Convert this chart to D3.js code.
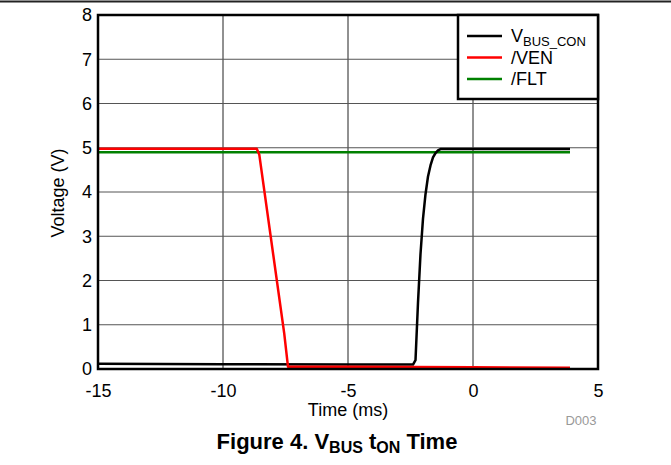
<!DOCTYPE html>
<html><head><meta charset="utf-8">
<script src="https://cdn.jsdelivr.net/npm/d3@7"></script>
<style>body{margin:0;background:#fff}svg{font-family:"Liberation Sans",Arial,sans-serif}</style>
</head><body><svg id="c" width="671" height="465"></svg>
<script>
const xTicks = [-15, -10, -5, 0, 5];
const yTicks = [0, 1, 2, 3, 4, 5, 6, 7, 8];
const vbusT = [-15, -10, -5, -2.4, -2.3, -2.2, -2.1, -2.0, -1.9, -1.8, -1.7, -1.6, -1.5, -1.4, -1.3, 0, 3.88];
const vbusV = [0.12, 0.11, 0.1, 0.1, 0.2, 1.5, 2.6, 3.4, 3.95, 4.35, 4.6, 4.78, 4.88, 4.94, 4.97, 4.97, 4.97];
const venT = [-15, -10, -8.65, -8.55, -7.55, -7.4, -5, 0, 3.88];
const venV = [4.98, 4.98, 4.98, 4.85, 0.8, 0.05, 0.05, 0.04, 0.03];
const fltT = [-15, -5, 0, 3.88];
const fltV = [4.9, 4.9, 4.9, 4.9];
const seriesNames = ["V", "/VEN", "/FLT"];
const seriesColors = ["#000000", "#ff0000", "#008000"];

const FF = '"Liberation Sans",Arial,sans-serif';
const svg = d3.select("#c");
const L = 98, R = 598, T = 15, B = 369;
const x = d3.scaleLinear().domain([-15, 5]).range([L, R]);
const y = d3.scaleLinear().domain([0, 8]).range([B, T]);

// top page rule
svg.append("line").attr("x1", 0).attr("x2", 671).attr("y1", 1.5).attr("y2", 1.5).attr("stroke", "#222").attr("stroke-width", 2);

// grid
const g = svg.append("g");
g.selectAll(".vg").data(xTicks.slice(1, -1)).join("line")
  .attr("x1", d => x(d)).attr("x2", d => x(d)).attr("y1", T).attr("y2", B)
  .attr("stroke", "#222").attr("stroke-width", 1);
g.selectAll(".hg").data(yTicks.slice(1, -1)).join("line")
  .attr("x1", L).attr("x2", R).attr("y1", d => y(d)).attr("y2", d => y(d))
  .attr("stroke", "#555").attr("stroke-width", 1);

// axes labels
const xAxis = d3.axisBottom(x).tickValues(xTicks).tickSize(0).tickPadding(15).tickFormat(d => String(d));
const ax = svg.append("g").attr("transform", `translate(0,${B})`).call(xAxis);
ax.attr("font-size", 18).attr("font-family", FF);
ax.select(".domain").remove();
ax.selectAll("text").attr("fill", "#000");
const yAxis = d3.axisLeft(y).tickValues(yTicks).tickSize(0).tickPadding(6).tickFormat(d => String(d));
const ay = svg.append("g").attr("transform", `translate(${L},0)`).call(yAxis);
ay.attr("font-size", 18).attr("font-family", FF);
ay.select(".domain").remove();
ay.selectAll("text").attr("fill", "#000");

// data lines
const line = d3.line().x(d => x(d[0])).y(d => y(d[1]));
const data = [d3.zip(vbusT, vbusV), d3.zip(venT, venV), d3.zip(fltT, fltV)];
[2, 0, 1].forEach(i => {
  svg.append("path").datum(data[i]).attr("d", line).attr("fill", "none")
    .attr("stroke", seriesColors[i]).attr("stroke-width", 2.5).attr("stroke-linejoin", "round");
});

// frame
svg.append("rect").attr("x", L).attr("y", T).attr("width", R - L).attr("height", B - T)
  .attr("fill", "none").attr("stroke", "#000").attr("stroke-width", 2.5);

// legend
const lg = svg.append("g");
lg.append("rect").attr("x", 458).attr("y", T).attr("width", R - 458).attr("height", 84)
  .attr("fill", "#fff").attr("stroke", "#000").attr("stroke-width", 2.5);
const ly = [36, 57.5, 79];
seriesNames.forEach((n, i) => {
  lg.append("line").attr("x1", 467).attr("x2", 502).attr("y1", ly[i]).attr("y2", ly[i])
    .attr("stroke", seriesColors[i]).attr("stroke-width", 2.5);
  const t = lg.append("text").attr("x", 511).attr("y", ly[i] + 6).attr("font-size", 18).attr("fill", "#000");
  if (i === 0) {
    t.append("tspan").text("V");
    t.append("tspan").attr("font-size", 13).attr("dy", 4).text("BUS_CON");
  } else t.text(n);
});

// axis titles
svg.append("text").attr("x", 348).attr("y", 416).attr("text-anchor", "middle").attr("font-size", 18).text("Time (ms)");
svg.append("text").attr("transform", "translate(64,193) rotate(-90)").attr("text-anchor", "middle").attr("font-size", 18).text("Voltage (V)");
svg.append("text").attr("x", 581).attr("y", 425).attr("text-anchor", "middle").attr("font-size", 13).attr("fill", "#999").text("D003");

// caption
const cap = svg.append("text").attr("x", 337).attr("y", 449).attr("text-anchor", "middle").attr("font-size", 22).attr("font-weight", "bold");
cap.append("tspan").text("Figure 4. V");
cap.append("tspan").attr("font-size", 16).attr("dy", 4).text("BUS");
cap.append("tspan").attr("dy", -4).text(" t");
cap.append("tspan").attr("font-size", 16).attr("dy", 4).text("ON");
cap.append("tspan").attr("dy", -4).text(" Time");
</script></body></html>
